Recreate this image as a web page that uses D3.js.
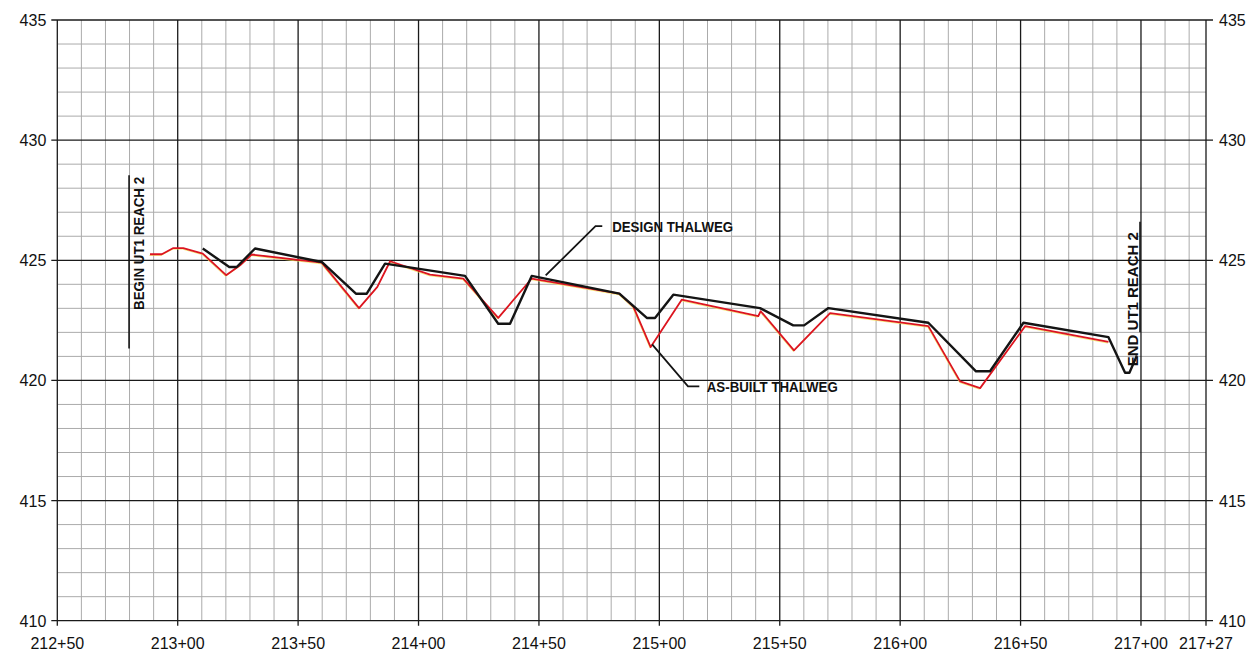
<!DOCTYPE html>
<html>
<head>
<meta charset="utf-8">
<script src="https://cdn.jsdelivr.net/npm/d3@7"></script>
<style>
  html, body { margin: 0; padding: 0; background: #fff; }
  svg { display: block; }
  .lbl { font-family: "Liberation Sans", Arial, sans-serif; fill: #111; }
</style>
</head>
<body>
<svg id="chart" width="1251" height="651"></svg>
<script>
// stations in feet (21250 = 212+50), elevations in feet
const designSta = [21310.4, 21321.4, 21324.5, 21332.1, 21359.8, 21374.0, 21378.5, 21386.1,
  21419.3, 21433.1, 21438.0, 21447.0, 21483.4, 21494.8, 21498.2, 21505.8, 21541.8,
  21555.6, 21560.1, 21570.2, 21611.7, 21631.5, 21637.3, 21651.2, 21686.5, 21693.4,
  21695.2, 21698.3];
const designElev = [425.49, 424.72, 424.72, 425.49, 424.93, 423.61, 423.61, 424.86,
  424.35, 422.36, 422.36, 424.35, 423.61, 422.60, 422.60, 423.57, 423.01,
  422.29, 422.29, 423.01, 422.40, 420.38, 420.38, 422.40, 421.80, 420.32,
  420.32, 421.04];

const asBuiltSta = [21288.5, 21293.4, 21298.2, 21302.3, 21310.4, 21320.1, 21325.9, 21330.7,
  21359.8, 21375.3, 21382.9, 21388.2, 21404.8, 21418.6, 21433.1, 21447.0, 21483.4,
  21489.2, 21496.4, 21509.3, 21541.1, 21542.1, 21555.9, 21570.9, 21611.7, 21624.9,
  21633.2, 21651.9, 21686.5];
const asBuiltElev = [425.25, 425.25, 425.51, 425.51, 425.28, 424.38, 424.79, 425.24,
  424.90, 423.01, 423.89, 424.96, 424.40, 424.24, 422.60, 424.24, 423.61,
  423.07, 421.39, 423.36, 422.68, 422.88, 421.25, 422.80, 422.26, 419.96,
  419.68, 422.26, 421.60];

const xTicks = [21250, 21300, 21350, 21400, 21450, 21500, 21550, 21600, 21650, 21700, 21727];
const xTickLabels = ['212+50', '213+00', '213+50', '214+00', '214+50', '215+00',
  '215+50', '216+00', '216+50', '217+00', '217+27'];
const yTicks = [410, 415, 420, 425, 430, 435];
const yTickLabels = ['410', '415', '420', '425', '430', '435'];

const margin = { left: 57.3, right: 1251 - 1206, top: 20, bottom: 651 - 620.7 };
const svg = d3.select('#chart');
const W = 1251, H = 651;

const x = d3.scaleLinear().domain([21250, 21727]).range([margin.left, W - margin.right]);
const y = d3.scaleLinear().domain([410, 435]).range([H - margin.bottom, margin.top]);

// grid
const grid = svg.append('g');
const minorX = d3.range(21260, 21727, 10).filter(v => v % 50 !== 0);
const minorY = d3.range(411, 435, 1).filter(v => v % 5 !== 0);

grid.selectAll('line.vmin').data(minorX).enter().append('line')
  .attr('x1', d => x(d)).attr('x2', d => x(d))
  .attr('y1', y(435)).attr('y2', y(410))
  .attr('stroke', '#ababab').attr('stroke-width', 1);

grid.selectAll('line.hmin').data(minorY).enter().append('line')
  .attr('x1', x(21250)).attr('x2', x(21727))
  .attr('y1', d => y(d)).attr('y2', d => y(d))
  .attr('stroke', '#ababab').attr('stroke-width', 1);

// major lines, extending past the frame as ticks
grid.selectAll('line.vmaj').data(xTicks).enter().append('line')
  .attr('x1', d => x(d)).attr('x2', d => x(d))
  .attr('y1', y(435)).attr('y2', y(410) + 5)
  .attr('stroke', '#1a1a1a').attr('stroke-width', 1.3);

grid.selectAll('line.hmaj').data(yTicks).enter().append('line')
  .attr('x1', x(21250) - 6).attr('x2', x(21727) + 7)
  .attr('y1', d => y(d)).attr('y2', d => y(d))
  .attr('stroke', '#1a1a1a').attr('stroke-width', 1.3);

// tick labels
const labels = svg.append('g').attr('class', 'lbl').attr('font-size', 16);
labels.selectAll('text.yl').data(yTicks).enter().append('text')
  .attr('class', 'lbl')
  .attr('x', x(21250) - 11).attr('y', d => y(d) + 6)
  .attr('text-anchor', 'end')
  .text((d, i) => yTickLabels[i]);
labels.selectAll('text.yr').data(yTicks).enter().append('text')
  .attr('class', 'lbl')
  .attr('x', x(21727) + 13).attr('y', d => y(d) + 6)
  .text((d, i) => yTickLabels[i]);
labels.selectAll('text.xl').data(xTicks).enter().append('text')
  .attr('class', 'lbl')
  .attr('x', d => x(d)).attr('y', y(410) + 28)
  .attr('text-anchor', 'middle')
  .text((d, i) => xTickLabels[i]);

// profile lines
const line = d3.line().x(d => x(d[0])).y(d => y(d[1]));
const asBuilt = asBuiltSta.map((s, i) => [s, asBuiltElev[i]]);
const design = designSta.map((s, i) => [s, designElev[i]]);

// faint yellow print fringe under the red line
svg.append('path').datum(asBuilt)
  .attr('d', line)
  .attr('transform', 'translate(-0.6,1.1)')
  .attr('fill', 'none').attr('stroke', '#f4e35a').attr('stroke-width', 1)
  .attr('stroke-opacity', 0.8)
  .attr('stroke-linejoin', 'round');

svg.append('path').datum(asBuilt)
  .attr('d', line)
  .attr('fill', 'none').attr('stroke', '#dc1420').attr('stroke-width', 1.8)
  .attr('stroke-linejoin', 'round');

svg.append('path').datum(design)
  .attr('d', line)
  .attr('fill', 'none').attr('stroke', '#141414').attr('stroke-width', 2.4)
  .attr('stroke-linejoin', 'round');

// leaders and annotations
const leaders = [
  [[21452.8, 424.37], [21473.5, 426.42], [21476.3, 426.42]],
  [[21497.0, 421.50], [21511.9, 419.75], [21516.6, 419.75]]
];
leaders.forEach(pts => {
  svg.append('path').datum(pts)
    .attr('d', line)
    .attr('fill', 'none').attr('stroke', '#141414').attr('stroke-width', 1.8);
});

svg.append('text').attr('class', 'lbl')
  .attr('x', x(21480.4)).attr('y', y(426.42) + 5.5)
  .attr('font-size', 14).attr('font-weight', 'bold')
  .attr('textLength', 121).attr('lengthAdjust', 'spacingAndGlyphs')
  .text('DESIGN THALWEG');

svg.append('text').attr('class', 'lbl')
  .attr('x', x(21519.7)).attr('y', y(419.75) + 5.5)
  .attr('font-size', 14).attr('font-weight', 'bold')
  .attr('textLength', 131).attr('lengthAdjust', 'spacingAndGlyphs')
  .text('AS-BUILT THALWEG');

// begin / end station markers
const beginX = x(21279.8);
svg.append('line')
  .attr('x1', beginX).attr('x2', beginX)
  .attr('y1', y(428.54)).attr('y2', y(421.33))
  .attr('stroke', '#141414').attr('stroke-width', 1.6);
svg.append('text').attr('class', 'lbl')
  .attr('transform', `translate(${beginX + 15},${y(425.7)}) rotate(-90)`)
  .attr('text-anchor', 'middle')
  .attr('font-size', 15).attr('font-weight', 'bold')
  .attr('textLength', 133).attr('lengthAdjust', 'spacingAndGlyphs')
  .text('BEGIN UT1 REACH 2');

const endX = x(21699.6);
svg.append('line')
  .attr('x1', endX).attr('x2', endX)
  .attr('y1', y(426.6)).attr('y2', y(422.0))
  .attr('stroke', '#141414').attr('stroke-width', 1.6);
svg.append('text').attr('class', 'lbl')
  .attr('transform', `translate(${endX - 2.5},${y(423.38)}) rotate(-90)`)
  .attr('text-anchor', 'middle')
  .attr('font-size', 14.5).attr('font-weight', 'bold')
  .attr('textLength', 134).attr('lengthAdjust', 'spacingAndGlyphs')
  .text('END UT1 REACH 2');
</script>
</body>
</html>
